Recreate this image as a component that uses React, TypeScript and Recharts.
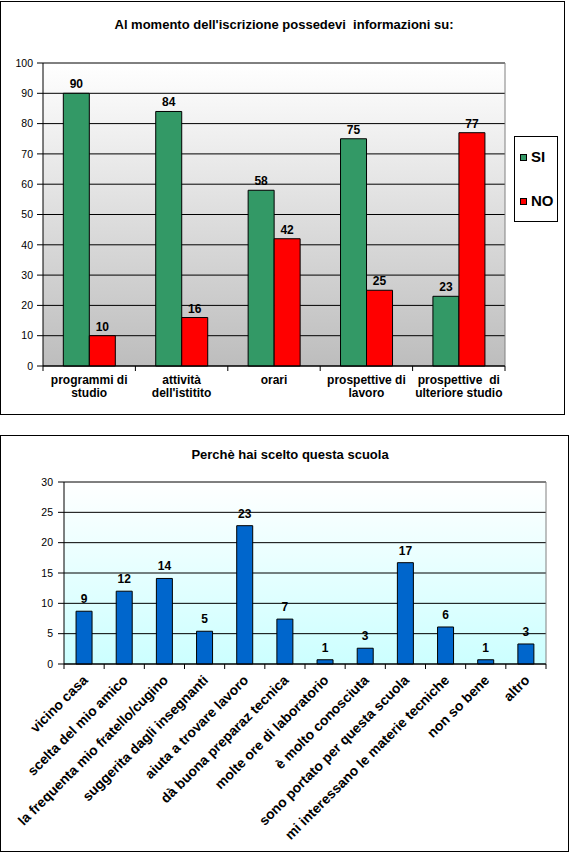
import React from 'react';
import { BarChart, Bar, XAxis, YAxis, CartesianGrid, LabelList } from 'recharts';

// --- chart 1: "Al momento dell'iscrizione possedevi informazioni su:"
const infoCategories = ['programmi di\nstudio', "attività\ndell'istitito", 'orari', 'prospettive di\nlavoro', 'prospettive  di\nulteriore studio'];
const siValues = [90, 84, 58, 75, 23];
const noValues = [10, 16, 42, 25, 77];
const infoTicks = [0, 10, 20, 30, 40, 50, 60, 70, 80, 90, 100];
const infoSeries = ['SI', 'NO'];

// --- chart 2: "Perchè hai scelto questa scuola"
const reasons = [
  'vicino casa',
  'scelta del mio amico',
  'la frequenta mio fratello/cugino',
  'suggerita dagli insegnanti',
  'aiuta a trovare lavoro',
  'dà buona preparaz tecnica',
  'molte ore di laboratorio',
  'è molto conosciuta',
  'sono portato per questa scuola',
  'mi interessano le materie tecniche',
  'non so bene',
  'altro',
];
const reasonValues = [8.7, 12, 14.1, 5.4, 22.8, 7.4, 0.7, 2.6, 16.7, 6.1, 0.7, 3.3];
const reasonLabels = [9, 12, 14, 5, 23, 7, 1, 3, 17, 6, 1, 3];
const reasonTicks = [0, 5, 10, 15, 20, 25, 30];

const infoData = infoCategories.map((name, i) => ({ name, si: siValues[i], no: noValues[i] }));
const reasonData = reasons.map((name, i) => ({ name, value: reasonValues[i], label: reasonLabels[i] }));

const FONT = '"Liberation Sans", Arial, Helvetica, sans-serif';
const GREEN = '#339966';
const RED = '#FF0000';
const BLUE = '#0066CC';
const seriesColors = [GREEN, RED];

function InfoTick(props: any) {
  const { x, y, payload, index } = props;
  const half = payload.offset ?? 0;
  const lines = String(payload.value).split('\n');
  return (
    <g>
      <line x1={x - half} y1={y} x2={x - half} y2={y + 5} stroke="#000" />
      {index === infoCategories.length - 1 && <line x1={x + half} y1={y} x2={x + half} y2={y + 5} stroke="#000" />}
      <text x={x} y={y + 17.5} textAnchor="middle" fontFamily={FONT} fontSize={12} fontWeight="bold" fill="#000" style={{ whiteSpace: 'pre' }}>
        {lines.map((l, i) => (
          <tspan key={i} x={x} dy={i === 0 ? 0 : 13}>{l}</tspan>
        ))}
      </text>
    </g>
  );
}

function ReasonTick(props: any) {
  const { x, y, payload, index } = props;
  const half = payload.offset ?? 0;
  const px = x + 4.5;
  const py = y + 17;
  return (
    <g>
      <line x1={x - half} y1={y} x2={x - half} y2={y + 5} stroke="#000" />
      {index === reasons.length - 1 && <line x1={x + half} y1={y} x2={x + half} y2={y + 5} stroke="#000" />}
      <text x={px} y={py} transform={`rotate(-45 ${px} ${py})`} textAnchor="end" fontFamily={FONT} fontSize={13.8} fontWeight="bold" fill="#000">
        {payload.value}
      </text>
    </g>
  );
}

const titleStyle: React.CSSProperties = {
  position: 'absolute',
  left: 0,
  width: 568,
  textAlign: 'center',
  fontFamily: FONT,
  fontWeight: 'bold',
  fontSize: 13,
  lineHeight: '16px',
  whiteSpace: 'pre',
  color: '#000',
};

export default function App() {
  return (
    <div style={{ position: 'relative', width: 570, height: 853, background: '#fff', overflow: 'hidden' }}>
      <style>{'body{margin:0;background:#fff}'}</style>

      {/* top chart */}
      <div style={{ position: 'absolute', left: 0, top: 1, width: 565, height: 414, border: '1px solid #000', boxSizing: 'border-box' }} />
      <div style={{ ...titleStyle, top: 17 }}>Al momento dell'iscrizione possedevi  informazioni su:</div>
      <div style={{ position: 'absolute', left: 0, top: 0 }}>
        <BarChart width={570} height={420} data={infoData} margin={{ top: 63, right: 65, bottom: 14, left: 0 }} barCategoryGap="22%" barGap={0}>
          <defs>
            <linearGradient id="infoBg" x1="0" y1="0" x2="0" y2="1">
              <stop offset="0%" stopColor="#ffffff" />
              <stop offset="100%" stopColor="#bdbdbd" />
            </linearGradient>
          </defs>
          <CartesianGrid vertical={false} stroke="#000" fill="url(#infoBg)" fillOpacity={1} />
          <CartesianGrid
            stroke="#808080"
            horizontalCoordinatesGenerator={({ offset }: any) => [offset.top]}
            verticalCoordinatesGenerator={({ offset }: any) => [offset.left + offset.width]}
          />
          <XAxis dataKey="name" interval={0} height={40} axisLine={{ stroke: '#000' }} tickLine={false} tickSize={0} tickMargin={0} tick={<InfoTick />} />
          <YAxis
            width={43}
            domain={[0, 100]}
            ticks={infoTicks}
            interval={0}
            axisLine={{ stroke: '#000' }}
            tickLine={{ stroke: '#000' }}
            tickSize={6}
            tickMargin={4}
            tick={{ fill: '#000', fontSize: 10.5, fontFamily: FONT }}
          />
          <Bar dataKey="si" name={infoSeries[0]} fill={GREEN} stroke="#000" strokeWidth={1} isAnimationActive={false}>
            <LabelList dataKey="si" position="top" offset={5} fill="#000" fontFamily={FONT} fontSize={12} fontWeight="bold" />
          </Bar>
          <Bar dataKey="no" name={infoSeries[1]} fill={RED} stroke="#000" strokeWidth={1} isAnimationActive={false}>
            <LabelList dataKey="no" position="top" offset={5} fill="#000" fontFamily={FONT} fontSize={12} fontWeight="bold" />
          </Bar>
        </BarChart>
      </div>
      <div style={{ position: 'absolute', left: 514, top: 136, width: 44, height: 86, border: '1px solid #000', boxSizing: 'border-box', background: '#fff' }}>
        {infoSeries.map((s, i) => (
          <div key={s} style={{ position: 'absolute', left: 5, top: i === 0 ? 11 : 55, height: 18, display: 'flex', alignItems: 'center' }}>
            <span style={{ display: 'inline-block', width: 7, height: 7, background: seriesColors[i], border: '1px solid #000', boxSizing: 'border-box', marginRight: 4 }} />
            <span style={{ fontFamily: FONT, fontWeight: 'bold', fontSize: 15, lineHeight: '18px', color: '#000' }}>{s}</span>
          </div>
        ))}
      </div>

      {/* bottom chart */}
      <div style={{ position: 'absolute', left: 0, top: 435, width: 569, height: 417, border: '1px solid #000', boxSizing: 'border-box' }} />
      <div style={{ ...titleStyle, left: 6, top: 447 }}>Perchè hai scelto questa scuola</div>
      <div style={{ position: 'absolute', left: 0, top: 425 }}>
        <BarChart width={570} height={428} data={reasonData} margin={{ top: 57, right: 24, bottom: 18, left: 0 }} barCategoryGap="30%">
          <defs>
            <linearGradient id="reasonBg" x1="0" y1="0" x2="0" y2="1">
              <stop offset="0%" stopColor="#ffffff" />
              <stop offset="100%" stopColor="#ccffff" />
            </linearGradient>
          </defs>
          <CartesianGrid vertical={false} stroke="#000" fill="url(#reasonBg)" fillOpacity={1} />
          <CartesianGrid
            stroke="#808080"
            horizontalCoordinatesGenerator={({ offset }: any) => [offset.top]}
            verticalCoordinatesGenerator={({ offset }: any) => [offset.left + offset.width]}
          />
          <XAxis dataKey="name" interval={0} height={171} axisLine={{ stroke: '#000' }} tickLine={false} tickSize={0} tickMargin={0} tick={<ReasonTick />} />
          <YAxis
            width={64}
            domain={[0, 30]}
            ticks={reasonTicks}
            interval={0}
            axisLine={{ stroke: '#000' }}
            tickLine={{ stroke: '#000' }}
            tickSize={6}
            tickMargin={5}
            tick={{ fill: '#000', fontSize: 10.5, fontFamily: FONT }}
          />
          <Bar dataKey="value" fill={BLUE} stroke="#000" strokeWidth={1} isAnimationActive={false}>
            <LabelList dataKey="label" position="top" offset={8} fill="#000" fontFamily={FONT} fontSize={12} fontWeight="bold" />
          </Bar>
        </BarChart>
      </div>
    </div>
  );
}
